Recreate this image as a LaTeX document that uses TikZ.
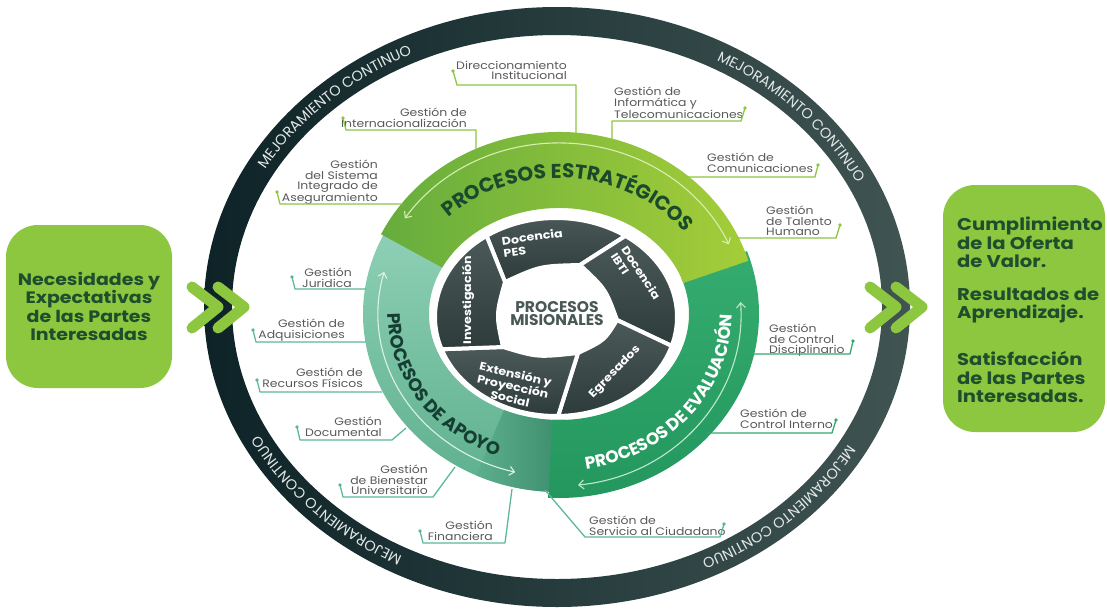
\documentclass[tikz,border=0pt]{standalone}
\usepackage{fontspec}
\newfontfamily\pop[FakeStretch=1.15]{Poppins}
\newfontfamily\popn{Poppins}
\usetikzlibrary{decorations.text,arrows.meta}
\definecolor{ringL}{HTML}{0D2327}
\definecolor{ringR}{HTML}{405452}
\definecolor{strL}{HTML}{66AD3D}
\definecolor{strR}{HTML}{A5CD39}
\definecolor{strTxt}{HTML}{1A4A2B}
\definecolor{apoT}{HTML}{92D2B8}
\definecolor{apoB}{HTML}{5CAF8D}
\definecolor{apoS}{HTML}{3A8A69}
\definecolor{apoTxt}{HTML}{163F33}
\definecolor{evaT}{HTML}{35AC6F}
\definecolor{evaB}{HTML}{23975E}
\definecolor{segT}{HTML}{4B5A58}
\definecolor{segB}{HTML}{2D3B3A}
\definecolor{misTxt}{HTML}{4A5856}
\definecolor{labTxt}{HTML}{58595B}
\definecolor{cG}{HTML}{8DC63F}
\definecolor{cT}{HTML}{5DB89B}
\definecolor{cE}{HTML}{33A96D}
\definecolor{boxG}{HTML}{8DC63F}
\definecolor{boxTxt}{HTML}{1E4E2D}
\definecolor{ringTxt}{HTML}{E2E8E8}
\definecolor{strA}{HTML}{D8EDB4}
\definecolor{apoA}{HTML}{DDF1E8}
\definecolor{evaA}{HTML}{BDE8D0}
\begin{document}
\begin{tikzpicture}[x=1pt,y=-1pt,
 annsec/.style n args={6}{insert path={(#1:#3 and #4) arc[start angle=#1,end angle=#2,x radius=#3,y radius=#4] -- (#2:#5 and #6) arc[start angle=#2,end angle=#1,x radius=#5,y radius=#6] -- cycle}},
 lab/.style={font=\pop\fontsize{10.8}{10.3}\selectfont, text=labTxt, inner sep=0pt},
 labL/.style={lab, anchor=north east, align=right},
 labR/.style={lab, anchor=north west, align=left},
 dotn/.style={circle, inner sep=0pt, minimum size=3.6pt},
 conn/.style={line width=1.3pt, line join=round},
 seg/.style={top color=segT, bottom color=segB, draw=white, line width=4pt, line join=round},
 segtxt/.style={text=white, font=\pop\bfseries\fontsize{11}{12.5}\selectfont, inner sep=0pt},
 barrow/.style={line width=1.1pt, {Straight Barb[length=5pt,width=9pt]}-{Straight Barb[length=5pt,width=9pt]}},
 chev/.style={line width=11pt, line cap=round, line join=round, draw=boxG},
 box/.style={fill=boxG, rounded corners=32pt, inner sep=0pt, text=boxTxt}]
\useasboundingbox (0,0) rectangle (1107,608);
\fill[white] (0,0) rectangle (1107,608);

% outer ring
\shade[left color=ringL, right color=ringR, even odd rule] (557,307) ellipse[x radius=353, y radius=300] (557,307) ellipse[x radius=325, y radius=272];
\begin{scope}[shift={(557,307)}]
 \foreach \a in {196,287,16,106}{
  \path[decorate, decoration={text along path, text align=center, text color=ringTxt,
    text={|\popn\fontsize{14.5}{14.5}\selectfont|MEJORAMIENTO CONTINUO}}]
    (\a:334 and 281) arc[start angle=\a, end angle=\a+60, x radius=334, y radius=281];
 }
\end{scope}

% coloured bands
\begin{scope}[shift={(559,314)}]
 \shade[top color=apoT, bottom color=apoB, annsec={87}{215}{196}{178}{130}{106}];
 \shade[left color=apoB, right color=apoS, annsec={87}{115}{196}{178}{130}{106}];
 \shade[top color=evaT, bottom color=evaB, annsec={-20}{93}{200}{184}{130}{106}];
 \shade[left color=strL, right color=strR, annsec={206}{343}{198}{182}{130}{106}];
 \draw[barrow, draw=strA] (214:186 and 171) arc[start angle=214,end angle=336,x radius=186,y radius=171];
 \draw[barrow, draw=apoA] (195:181 and 163) arc[start angle=195,end angle=104,x radius=181,y radius=163];
 \draw[barrow, draw=evaA] (84:182 and 172) arc[start angle=84,end angle=-4,x radius=182,y radius=172];
 \path[decorate, decoration={text along path, text align=center, text color=strTxt,
   text={|\popn\bfseries\fontsize{20}{20}\selectfont|PROCESOS ESTRATÉGICOS}}]
   (203:157 and 136) arc[start angle=203, end angle=346, x radius=157, y radius=136];
 \path[decorate, decoration={text along path, text align=center, text color=apoTxt,
   text={|\popn\bfseries\fontsize{18}{18}\selectfont|PROCESOS DE APOYO}}]
   (200:171 and 152) arc[start angle=200, end angle=93, x radius=171, y radius=152];
 \path[decorate, decoration={text along path, text align=center, text color=white,
   text={|\popn\bfseries\fontsize{17}{17}\selectfont|PROCESOS DE EVALUACIÓN}}]
   (94:173 and 157) arc[start angle=94, end angle=-14, x radius=173, y radius=157];
\end{scope}

% misional segments
\begin{scope}[shift={(556,317)}]
 \path[seg] (235:121 and 99) arc[start angle=235,end angle=305,x radius=121,y radius=99] -- (24,-52) .. controls (-16,-51) .. (-51,-35) -- cycle;
 \path[seg] (305:121 and 99) arc[start angle=305,end angle=377,x radius=121,y radius=99] -- (61,3) .. controls (49.7,-28) .. (24,-52) -- cycle;
 \path[seg] (17:121 and 99) arc[start angle=17,end angle=89,x radius=121,y radius=99] -- (22,36) .. controls (48.5,23.4) .. (61,3) -- cycle;
 \path[seg] (89:121 and 99) arc[start angle=89,end angle=161,x radius=121,y radius=99] -- (-53,30) .. controls (-18.6,40.4) .. (22,36) -- cycle;
 \path[seg] (161:121 and 99) arc[start angle=161,end angle=235,x radius=121,y radius=99] -- (-51,-35) .. controls (-60,-2.3) .. (-53,30) -- cycle;
\end{scope}
\node[segtxt, rotate=8, align=left] (tPES) at (533,243) {Docencia\\PES};
\node[segtxt, rotate=-57, align=left] (tIBTI) at (636,276) {Docencia\\IBTI};
\node[segtxt, rotate=90] (tInv) at (468,300) {Investigación};
\node[segtxt, rotate=46] (tEgr) at (615,372) {Egresados};
\node[segtxt, rotate=-13, align=center] (tExt) at (513,386) {Extensión y\\Proyección\\Social};
\node[text=misTxt, font=\popn\bfseries\fontsize{15.5}{13}\selectfont, align=center, inner sep=0pt] (tMis) at (557,314) {PROCESOS\\MISIONALES};

% labels
\node[labL] (lA) at (567,61) {Direccionamiento\\Institucional};
\node[labR] (lB) at (614,87) {Gestión de\\Informática y\\Telecomunicaciones};
\node[labL] (lC) at (467,108) {Gestión de\\Internacionalización};
\node[labL] (lD) at (378,160) {Gestión\\del Sistema\\Integrado de\\Aseguramiento};
\node[labR] (lE) at (707,153) {Gestión de\\Comunicaciones};
\node[labR] (lF) at (766,206) {Gestión\\de Talento\\Humano};
\node[labL] (lG) at (352,268) {Gestión\\Juridica};
\node[labL] (lH) at (345,319) {Gestión de\\Adquisiciones};
\node[labL] (lI) at (363,368) {Gestión de\\Recursos Físicos};
\node[labL] (lJ) at (382,417) {Gestión\\Documental};
\node[labL] (lK) at (428,465) {Gestión\\de Bienestar\\Universitario};
\node[labL] (lL) at (493,521) {Gestión\\Financiera};
\node[labR] (lM) at (769,324) {Gestión\\de Control\\Disciplinario};
\node[labR] (lN) at (740,409) {Gestión de\\Control Interno};
\node[labR] (lO) at (589,516) {Gestión de\\Servicio al Ciudadano};

% connector dots and ends
\node[dotn, fill=cG] (dA) at (453,71) {};   \coordinate (eA) at (576,134);
\node[dotn, fill=cG] (dB) at (745,108) {};  \coordinate (eB) at (612,140);
\node[dotn, fill=cG] (dC) at (343,118) {};  \coordinate (eC) at (476,150);
\node[dotn, fill=cG] (dD) at (277,192) {};  \coordinate (eD) at (403,204);
\node[dotn, fill=cG] (dE) at (818,165) {};  \coordinate (eE) at (687,177);
\node[dotn, fill=cG] (dF) at (840,225) {};  \coordinate (eF) at (737,238);
\node[dotn, fill=cT] (dG) at (292,277) {};  \coordinate (eG) at (366,289);
\node[dotn, fill=cT] (dH) at (253,330) {};  \coordinate (eH) at (366,342);
\node[dotn, fill=cT] (dI) at (257,380) {};  \coordinate (eI) at (382,392);
\node[dotn, fill=cT] (dJ) at (297,427) {};  \coordinate (eJ) at (406,428);
\node[dotn, fill=cT] (dK) at (340,485) {};  \coordinate (eK) at (455,467);
\node[dotn, fill=cT] (dL) at (420,531) {};  \coordinate (eL) at (512,489);
\node[dotn, fill=cE] (dM) at (853,341) {};  \coordinate (eM) at (750,354);
\node[dotn, fill=cE] (dN) at (836,420) {};  \coordinate (eN) at (707,433);
\node[dotn, fill=cT] (dO) at (724,524) {};  \coordinate (eO) at (545,490);

\draw[conn, cG] (dA.center) -- ++(4,14) -| (eA);
\draw[conn, cG] (dB.center) -- ++(-4,13) -| (eB);
\draw[conn, cG] (dC.center) -- ++(3,12) -| (eC);
\draw[conn, cG] (dD.center) -- ++(3,12) -- (eD);
\draw[conn, cG] (dE.center) -- ++(-3,12) -- (eE);
\draw[conn, cG] (dF.center) -- ++(-4,13) -- (eF);
\draw[conn, cT] (dG.center) -- ++(3,12) -- (eG);
\draw[conn, cT] (dH.center) -- ++(3,12) -- (eH);
\draw[conn, cT] (dI.center) -- ++(3,12) -- (eI);
\draw[conn, cT] (dJ.center) -- ++(3,13) -- ++(92,0) -- (eJ);
\draw[conn, cT] (dK.center) -- ++(3,12) -- ++(90,0) -- (eK);
\draw[conn, cT] (dL.center) -- ++(3,12) -- ++(82,0) -- (eL);
\draw[conn, cE] (dM.center) -- ++(-3,13) -- (eM);
\draw[conn, cE] (dN.center) -- ++(-4,13) -- (eN);
\draw[conn, cT] (dO.center) -- ++(-4,13) -- ++(-135,0) -- (eO);

% side boxes
\node[box, minimum width=166pt, minimum height=163pt, align=center,
  font=\pop\bfseries\fontsize{16.5}{18.2}\selectfont] (nec) at (89,306.5)
  {Necesidades y\\Expectativas\\de las Partes\\Interesadas};
\node[box, minimum width=162pt, minimum height=247pt] (res) at (1024,308.5) {};
\node[anchor=north west, align=left, inner sep=0pt, text=boxTxt,
  font=\pop\bfseries\fontsize{17}{18.5}\selectfont] (restxt) at (957,217)
  {Cumplimiento\\de la Oferta\\de Valor.\\[14pt]Resultados de\\Aprendizaje.\\[27pt]Satisfacción\\de las Partes\\Interesadas.};

% chevrons
\draw[chev] (192,287) -- (218,307) -- (192,328);
\draw[chev] (218,287) -- (244,307) -- (218,328);
\draw[chev] (870,287) -- (896,307) -- (870,328);
\draw[chev] (896,287) -- (922,307) -- (896,328);
\end{tikzpicture}
\end{document}
